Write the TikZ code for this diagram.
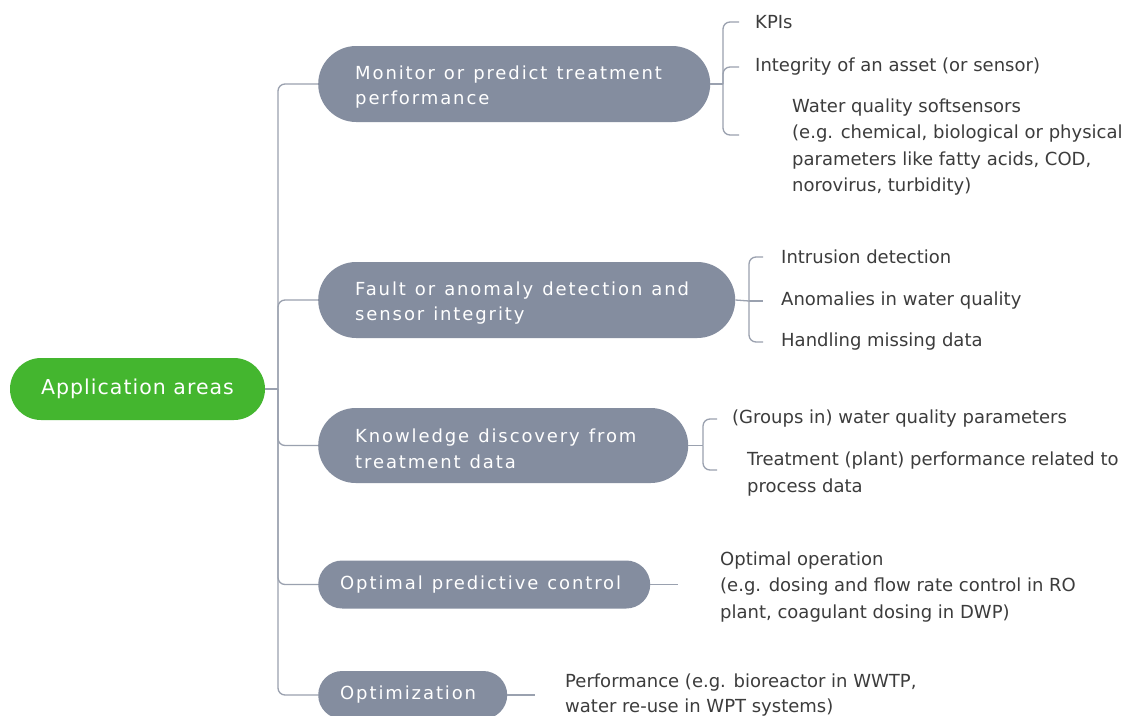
\documentclass[tikz,border=0pt]{standalone}
\usepackage{fontspec}
\setmainfont{DejaVu Sans}
\newfontfamily\pillfont[LetterSpace=10.5]{DejaVu Sans}
\newfontfamily\rootfont[LetterSpace=5]{DejaVu Sans}
\definecolor{appgreen}{RGB}{68,182,47}
\definecolor{pillgray}{RGB}{132,141,159}
\definecolor{linkgray}{RGB}{154,161,175}
\definecolor{inkgray}{RGB}{60,60,60}
% a taller first line nudges two-line pill labels down onto the pill's axis
\newcommand\firstline{\rule{0pt}{20pt}}
% widened word space for the tracked pill labels
\newcommand\gap{\hspace{3pt}\space}
\tikzset{
  pill/.style={fill=pillgray, text=white, align=left, anchor=west,
    font=\pillfont\fontsize{18}{25.5}\selectfont, inner ysep=0pt},
  rootpill/.style={fill=appgreen, text=white, minimum width=255pt, minimum height=62pt,
    rounded corners=31pt, font=\rootfont\fontsize{20.5}{24}\selectfont, inner sep=0pt},
  item/.style={text=inkgray, align=left, anchor=west, inner ysep=0pt,
    font=\fontsize{18}{26.5}\selectfont},
  link/.style={draw=linkgray, line width=1.3pt},
  elbow/.style={link, rounded corners=7pt}
}
\begin{document}
\begin{tikzpicture}[x=1pt,y=-1pt]
\useasboundingbox[fill=white] (0,0) rectangle (1129,715);

% root
\node[rootpill] (root) at (137.5,389) {Application areas};
\coordinate (hub) at (278,389);

% first-level topics
\node[pill, minimum height=76pt, rounded corners=38pt, inner xsep=37pt, text width=318pt]
  (mon) at (318,84) {\firstline Monitor\gap or\gap predict\gap treatment\\performance};
\node[pill, minimum height=76pt, rounded corners=38pt, inner xsep=37pt, text width=343pt]
  (fault) at (318,300) {\firstline Fault\gap or\gap anomaly\gap detection\gap and\\sensor\gap integrity};
\node[pill, minimum height=75pt, rounded corners=37.5pt, inner xsep=37pt, text width=296pt]
  (know) at (318,445.5) {\firstline Knowledge\gap discovery\gap from\\treatment\gap data};
\node[pill, minimum height=48pt, rounded corners=24pt, inner xsep=22pt, text width=288pt]
  (opc) at (318,584.5) {Optimal\gap predictive\gap control};
\node[pill, minimum height=48pt, rounded corners=24pt, inner xsep=22pt, text width=145pt]
  (optim) at (318,695) {Optimization};

% trunk
\draw[link] (root.east) -- (hub);
\foreach \t in {mon,fault,know,opc,optim}
  \draw[elbow] (hub) |- (\t.west);

% monitor branch
\coordinate (j1) at (723,84);
\node[item, inner xsep=16pt] (kpi) at (739,22) {KPIs};
\node[item, inner xsep=16pt] (integ) at (739,67) {Integrity of an asset (or sensor)};
\node[item, inner xsep=0pt] (soft) at (792,147) {Water quality softsensors\\(e.g. chemical, biological or physical\\parameters like fatty acids, COD,\\norovirus, turbidity)};
\coordinate (softend) at (739,135);
\draw[link] (mon.east) -- (j1);
\draw[elbow] (j1) |- (kpi.west);
\draw[elbow] (j1) |- (integ.west);
\draw[elbow] (j1) |- (softend);

% fault branch
\coordinate (j2) at (749,301);
\node[item, inner xsep=18pt] (intr) at (763,257) {Intrusion detection};
\node[item, inner xsep=18pt] (anom) at (763,301) {Anomalies in water quality};
\node[item, inner xsep=18pt] (miss) at (763,342) {Handling missing data};
\draw[link] (fault.east) -- (j2);
\draw[elbow] (j2) |- (intr.west);
\draw[link] (j2) -- (anom.west);
\draw[elbow] (j2) |- (miss.west);

% knowledge branch
\coordinate (j3) at (703,445.5);
\node[item, inner xsep=15pt] (grp) at (717,419) {(Groups in) water quality parameters};
\node[item, inner xsep=0pt] (plant) at (747,474) {Treatment (plant) performance related to\\process data};
\coordinate (plantend) at (717,470);
\draw[link] (know.east) -- (j3);
\draw[elbow] (j3) |- (grp.west);
\draw[elbow] (j3) |- (plantend);

% control branch
\coordinate (e4) at (678,584.5);
\node[item, inner xsep=0pt] (oper) at (720,587) {Optimal operation\\(e.g. dosing and flow rate control in RO\\plant, coagulant dosing in DWP)};
\draw[link] (opc.east) -- (e4);

% optimization branch
\coordinate (e5) at (535,695);
\node[item, inner xsep=0pt, font=\fontsize{18}{25}\selectfont] (perf) at (565,695) {Performance (e.g. bioreactor in WWTP,\\water re-use in WPT systems)};
\draw[link] (optim.east) -- (e5);
\end{tikzpicture}
\end{document}
